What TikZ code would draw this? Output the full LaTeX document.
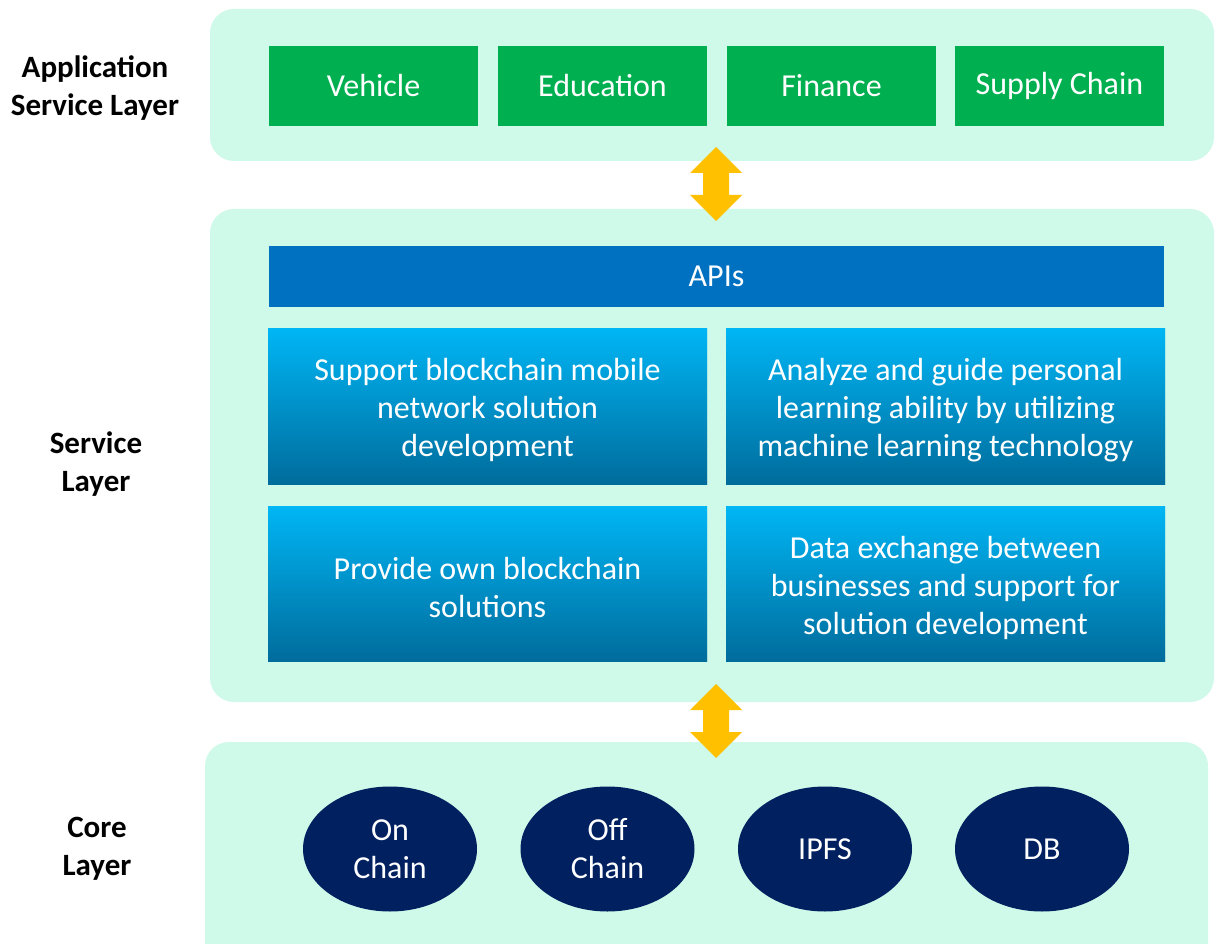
\documentclass[tikz,border=0pt]{standalone}
\usepackage{fontspec}
\setmainfont{Carlito}
\usetikzlibrary{shapes.geometric}
\definecolor{panel}{HTML}{CFF9E8}
\definecolor{appgreen}{HTML}{00B050}
\definecolor{apiblue}{HTML}{0070C0}
\definecolor{gradA}{HTML}{00B6F5}
\definecolor{gradB}{HTML}{006C9C}
\definecolor{navy}{HTML}{002060}
\definecolor{arrowy}{HTML}{FFC000}
\tikzset{
  panelbox/.style={fill=panel, draw=none, rounded corners=24pt},
  appbox/.style={fill=appgreen, draw=none, text=white, font=\fontsize{32}{38}\selectfont},
  gradbox/.style={draw=none, shading=axis, left color=gradA, right color=gradB, shading angle=0},
  boxtext/.style={text=white, align=center, font=\fontsize{32}{38}\selectfont},
  layerlabel/.style={align=center, font=\bfseries\fontsize{31}{38}\selectfont},
  coreell/.style={ellipse, fill=navy, draw=none, text=white, align=center, minimum width=174pt, minimum height=125pt, inner sep=0pt, font=\fontsize{32}{38}\selectfont},
  dblarrow/.style={fill=arrowy, draw=none}
}
\begin{document}
\begin{tikzpicture}[x=1pt,y=-1pt]
\useasboundingbox (0,0) rectangle (1219,944);
\fill[white] (0,0) rectangle (1219,944);
% panels
\path[panelbox] (210,9) rectangle (1214,161);
\path[panelbox] (210,209) rectangle (1214,702);
\path[panelbox] (205,742) rectangle (1208,968);
% application boxes
\node[appbox, minimum width=209pt, minimum height=80pt, inner sep=0pt] (veh) at (373.5,86) {Vehicle};
\node[appbox, minimum width=209pt, minimum height=80pt, inner sep=0pt] (edu) at (602.5,86) {Education};
\node[appbox, minimum width=209pt, minimum height=80pt, inner sep=0pt] (fin) at (831.5,86) {Finance};
\node[appbox, minimum width=209pt, minimum height=80pt, inner sep=0pt] (sup) at (1059.5,86) {Supply Chain};
% APIs
\node[fill=apiblue, text=white, minimum width=895pt, minimum height=61pt, inner sep=0pt, font=\fontsize{32}{38}\selectfont] (api) at (716.5,276.5) {APIs};
% gradient boxes
\shade[gradbox] (268,328) rectangle (707,484);
\shade[gradbox] (726,328) rectangle (1165,484);
\shade[gradbox] (268,506) rectangle (707,661);
\shade[gradbox] (726,506) rectangle (1165,661);
\begin{scope}[transparency group, opacity=0.4]
\shade[top color=gradA, bottom color=gradB, draw=none] (268,328) rectangle (707,484);
\shade[top color=gradA, bottom color=gradB, draw=none] (726,328) rectangle (1165,484);
\shade[top color=gradA, bottom color=gradB, draw=none] (268,506) rectangle (707,661);
\shade[top color=gradA, bottom color=gradB, draw=none] (726,506) rectangle (1165,661);
\end{scope}
\node[boxtext] (s1) at (487.5,410) {Support blockchain mobile\\network solution\\development};
\node[boxtext] (s2) at (945.5,410) {Analyze and guide personal\\learning ability by utilizing\\machine learning technology};
\node[boxtext] (s3) at (487.5,587.5) {Provide own blockchain\\solutions};
\node[boxtext] (s4) at (945.5,587.5) {Data exchange between\\businesses and support for\\solution development};
% core ellipses
\node[coreell] (on) at (390,849) {On\\Chain};
\node[coreell] (off) at (607.5,849) {Off\\Chain};
\node[coreell] (ipfs) at (825,849) {IPFS};
\node[coreell] (db) at (1042,849) {DB};
% arrows
\fill[dblarrow] (716,147) -- (742,173) -- (729,173) -- (729,195) -- (742,195) -- (716,221) -- (690,195) -- (703,195) -- (703,173) -- (690,173) -- cycle;
\fill[dblarrow] (716,684) -- (742,710) -- (729,710) -- (729,732) -- (742,732) -- (716,758) -- (690,732) -- (703,732) -- (703,710) -- (690,710) -- cycle;
% layer labels
\node[layerlabel] (l1) at (95,88) {Application\\Service Layer};
\node[layerlabel] (l2) at (96,464) {Service\\Layer};
\node[layerlabel] (l3) at (97,849) {Core\\Layer};
\end{tikzpicture}
\end{document}
